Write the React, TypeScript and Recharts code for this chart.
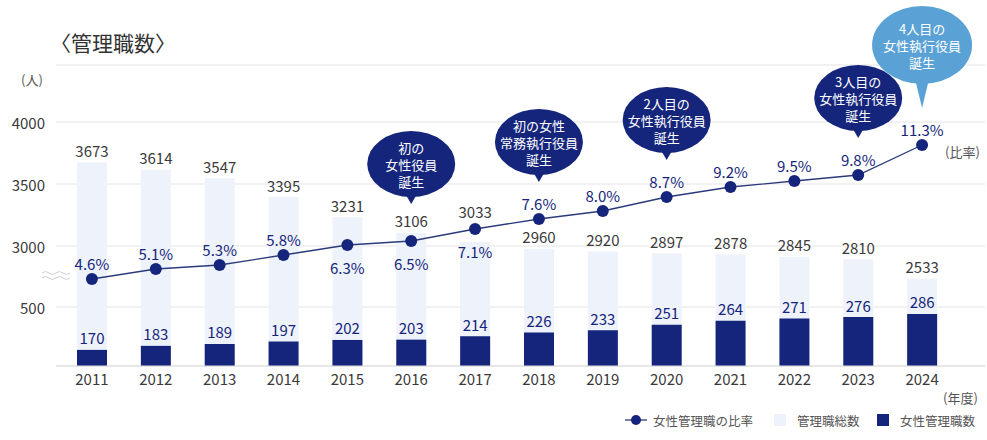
import React from 'react';
import { ComposedChart, Bar, Line, XAxis, YAxis, CartesianGrid, LabelList } from 'recharts';

const years = ['2011', '2012', '2013', '2014', '2015', '2016', '2017', '2018', '2019', '2020', '2021', '2022', '2023', '2024'];
const totalManagers = [3673, 3614, 3547, 3395, 3231, 3106, 3033, 2960, 2920, 2897, 2878, 2845, 2810, 2533];
const femaleManagers = [170, 183, 189, 197, 202, 203, 214, 226, 233, 251, 264, 271, 276, 286];
const femaleRatio = [4.6, 5.1, 5.3, 5.8, 6.3, 6.5, 7.1, 7.6, 8.0, 8.7, 9.2, 9.5, 9.8, 11.3];
const yTickLabels = [500, 3000, 3500, 4000];
const milestoneYears = ['2016', '2018', '2020', '2023', '2024'];
const milestoneTexts = [
  ['初の', '女性役員', '誕生'],
  ['初の女性', '常務執行役員', '誕生'],
  ['2人目の', '女性執行役員', '誕生'],
  ['3人目の', '女性執行役員', '誕生'],
  ['4人目の', '女性執行役員', '誕生'],
];

const FONT = '"Noto Sans CJK JP", "Noto Sans", sans-serif';
const NAVY = '#15257c';
const LIGHT = '#eef2fa';
const SKY = '#5aa2d6';

// broken axis: value -> virtual units (compressed between 500 and 3000)
const breakAnchors: [number, number][] = [[0, 0], [500, 59], [2400, 78], [3000, 120], [4000, 244], [5000, 368]];
function breakScale(v: number) {
  for (let i = 1; i < breakAnchors.length; i++) {
    const [v0, p0] = breakAnchors[i - 1];
    const [v1, p1] = breakAnchors[i];
    if (v <= v1) return p0 + ((v - v0) / (v1 - v0)) * (p1 - p0);
  }
  return breakAnchors[breakAnchors.length - 1][1];
}
const yTickPositions = yTickLabels.map(breakScale);

const data = years.map((year, i) => ({
  year,
  total: totalManagers[i],
  totalV: breakScale(totalManagers[i]),
  female: femaleManagers[i],
  ratio: femaleRatio[i],
}));

const belowLabelYears = new Set(['2015', '2016', '2017']);
const raisedTotalYears = new Set(['2017']);

function TotalLabel(props: any) {
  const { x, y, width, index } = props;
  const lift = raisedTotalYears.has(years[index]) ? 30 : 12;
  return (
    <text x={x + width / 2} y={y - lift} textAnchor="middle" dominantBaseline="central" fontSize={15} fill="#3a3a3a" fontFamily={FONT}>
      {totalManagers[index]}
    </text>
  );
}

function FemaleLabel(props: any) {
  const { x, y, width, index } = props;
  return (
    <text x={x + width / 2} y={y - 12} textAnchor="middle" dominantBaseline="central" fontSize={15} fill={NAVY} fontFamily={FONT}>
      {femaleManagers[index]}
    </text>
  );
}

function RatioLabel(props: any) {
  const { x, y, index } = props;
  const below = belowLabelYears.has(years[index]);
  return (
    <text x={x} y={below ? y + 22 : y - 16} textAnchor="middle" dominantBaseline="central" fontSize={15} fill={NAVY} fontFamily={FONT}>
      {femaleRatio[index].toFixed(1)}%
    </text>
  );
}

function Milestone(props: any) {
  const { x, y, index } = props;
  const k = milestoneYears.indexOf(years[index]);
  if (k < 0) return null;
  const latest = k === milestoneYears.length - 1;
  const rx = latest ? 50 : 44;
  const ry = latest ? 39 : 33;
  const tail = latest ? 24 : 7;
  const tip = y - 37;
  const cy = tip - tail - ry;
  const fill = latest ? SKY : NAVY;
  const lines = milestoneTexts[k];
  return (
    <g>
      <path d={`M${x - 7},${cy + ry - 5} L${x + 7},${cy + ry - 5} L${x},${tip} Z`} fill={fill} />
      <ellipse cx={x} cy={cy} rx={rx} ry={ry} fill={fill} />
      {lines.map((t, i) => (
        <text key={i} x={x} y={cy + (i - 1) * 17} textAnchor="middle" dominantBaseline="central" fontSize={13} fill="#fff" fontFamily={FONT}>
          {t}
        </text>
      ))}
    </g>
  );
}

function YTick(props: any) {
  const { y, payload } = props;
  const k = yTickPositions.findIndex((p) => Math.abs(p - payload.value) < 0.01);
  return (
    <text x={45} y={y} textAnchor="end" dominantBaseline="central" fontSize={15} fill="#3a3a3a" fontFamily={FONT}>
      {k >= 0 ? yTickLabels[k] : ''}
    </text>
  );
}

export default function App() {
  return (
    <div style={{ position: 'relative', width: 987, height: 440, fontFamily: FONT, background: '#fff' }}>
      <style>{'body{margin:0}'}</style>
      <div style={{ position: 'absolute', left: 50, top: 28, fontSize: 21, color: '#333', lineHeight: '28px' }}>〈管理職数〉</div>
      <div style={{ position: 'absolute', left: 21, top: 71, fontSize: 13, color: '#555', lineHeight: '18px' }}>(人)</div>
      <ComposedChart width={987} height={440} data={data} margin={{ top: 65, right: 2, bottom: 44, left: 0 }}>
        <CartesianGrid vertical={false} stroke="#e4e4e4" yAxisId="total" xAxisId="a" />
        <XAxis
          xAxisId="a"
          dataKey="year"
          height={30}
          padding={{ left: 4, right: 31 }}
          tick={{ fontSize: 15, fill: '#3a3a3a', fontFamily: FONT }}
          tickLine={false}
          axisLine={{ stroke: '#dcdcdc' }}
          interval={0}
        />
        <XAxis xAxisId="b" dataKey="year" hide padding={{ left: 4, right: 31 }} />
        <YAxis
          yAxisId="total"
          width={56}
          type="number"
          domain={[0, 301]}
          ticks={yTickPositions}
          tick={YTick}
          tickLine={false}
          axisLine={{ stroke: '#dcdcdc' }}
          interval={0}
          allowDataOverflow
        />
        <YAxis yAxisId="female" hide type="number" domain={[118, 1089]} allowDataOverflow />
        <YAxis yAxisId="ratio" hide type="number" domain={[0.25, 15.3]} allowDataOverflow />
        <Bar xAxisId="a" yAxisId="total" dataKey="totalV" fill={LIGHT} barSize={30} isAnimationActive={false}>
          <LabelList dataKey="totalV" content={TotalLabel} />
        </Bar>
        <Bar xAxisId="b" yAxisId="female" dataKey="female" fill={NAVY} barSize={30} isAnimationActive={false}>
          <LabelList dataKey="female" content={FemaleLabel} />
        </Bar>
        <Line
          xAxisId="a"
          yAxisId="ratio"
          dataKey="ratio"
          stroke="#2b3a7a"
          strokeWidth={1.3}
          dot={{ r: 6, fill: NAVY, stroke: NAVY, strokeWidth: 0 }}
          activeDot={false}
          isAnimationActive={false}
        >
          <LabelList dataKey="ratio" content={RatioLabel} />
          <LabelList dataKey="ratio" content={Milestone} />
        </Line>
      </ComposedChart>
      <svg style={{ position: 'absolute', left: 0, top: 0, pointerEvents: 'none' }} width={987} height={440}>
        <rect x={42} y={272} width={28} height={7} fill="#fff" />
        <path d="M42,273 q3.5,-3 7,0 t7,0 t7,0 t7,0" fill="none" stroke="#cfcfcf" strokeWidth={1} />
        <path d="M42,278 q3.5,-3 7,0 t7,0 t7,0 t7,0" fill="none" stroke="#cfcfcf" strokeWidth={1} />
        <text x={945} y={151} fontSize={13} fill="#555" dominantBaseline="central" fontFamily={FONT}>(比率)</text>
        <text x={943} y={397} fontSize={13} fill="#555" dominantBaseline="central" fontFamily={FONT}>(年度)</text>
        <line x1={625} y1={420} x2={647} y2={420} stroke="#2b3a7a" strokeWidth={1.3} />
        <circle cx={636} cy={420} r={5} fill={NAVY} />
        <text x={653} y={420} fontSize={12.5} fill="#555" dominantBaseline="central" fontFamily={FONT}>女性管理職の比率</text>
        <rect x={774} y={414} width={12} height={12} fill={LIGHT} />
        <text x={797} y={420} fontSize={12.5} fill="#555" dominantBaseline="central" fontFamily={FONT}>管理職総数</text>
        <rect x={877} y={414} width={12} height={12} fill={NAVY} />
        <text x={900} y={420} fontSize={12.5} fill="#555" dominantBaseline="central" fontFamily={FONT}>女性管理職数</text>
      </svg>
    </div>
  );
}
